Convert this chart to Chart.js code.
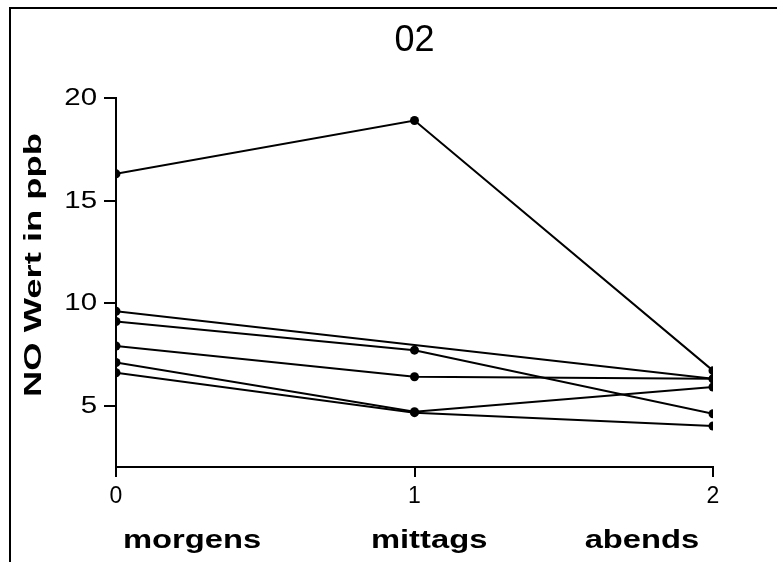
<!DOCTYPE html>
<html>
<head>
<meta charset="utf-8">
<script src="https://cdn.jsdelivr.net/npm/chart.js@4"></script>
<style>
  html, body { margin: 0; padding: 0; background: #fff; }
  #wrap { position: relative; width: 777px; height: 562px; overflow: hidden; }
  #frame { position: absolute; left: 9px; top: 7px; width: 800px; height: 600px;
           border-top: 2px solid #000; border-left: 2px solid #000; pointer-events: none; }
  canvas { position: absolute; left: 0; top: 0; }
</style>
</head>
<body>
<div id="wrap">
  <canvas id="chart" width="777" height="562"></canvas>
  <div id="frame"></div>
</div>
<script>
// Werte (NO in ppb) je Messreihe: morgens, mittags, abends
const xValues = [0, 1, 2];
const categories = ['morgens', 'mittags', 'abends'];
const reihe1 = [16.3, 18.9, 6.7];
const reihe2 = [9.6, null, 6.3];
const reihe3 = [9.1, 7.7, 4.6];
const reihe4 = [7.9, 6.4, 6.3];
const reihe5 = [7.1, 4.7, 5.9];
const reihe6 = [6.6, 4.65, 4.0];
const yTicks = [5, 10, 15, 20];
const xTicks = [0, 1, 2];

const FONT = '"Liberation Sans", Arial, sans-serif';

// breit gezogener Text (Original hat gestreckte Schrift)
function wideText(ctx, text, x, y, sx, rot) {
  ctx.save();
  ctx.translate(x, y);
  if (rot) ctx.rotate(rot);
  ctx.scale(sx, 1);
  ctx.fillText(text, 0, 0);
  ctx.restore();
}

const labelPlugin = {
  id: 'labels',
  afterDraw(chart) {
    const ctx = chart.ctx;
    const x = chart.scales.x;
    const y = chart.scales.y;
    ctx.save();
    ctx.fillStyle = '#000';

    // y-Achse Zahlen
    ctx.font = '23px ' + FONT;
    ctx.textAlign = 'right';
    ctx.textBaseline = 'middle';
    y.ticks.forEach(t => wideText(ctx, String(t.value), 97, y.getPixelForValue(t.value) + 1, 1.28));

    // Tageszeiten unter der x-Achse
    const pos = [0.255, 1.049, 1.762];
    ctx.font = 'bold 25px ' + FONT;
    ctx.textAlign = 'center';
    ctx.textBaseline = 'alphabetic';
    categories.forEach((c, i) => wideText(ctx, c, x.getPixelForValue(pos[i]), 548, 1.31));

    // y-Titel
    ctx.font = 'bold 23px ' + FONT;
    wideText(ctx, 'NO Wert in ppb', 40.5, 265, 1.58, -Math.PI / 2);
    ctx.restore();
  }
};

const reihen = [reihe1, reihe2, reihe3, reihe4, reihe5, reihe6];

new Chart(document.getElementById('chart'), {
  type: 'line',
  data: {
    datasets: reihen.map(r => ({
      data: xValues.map((x, i) => ({ x: x, y: r[i] })),
      borderColor: '#000',
      backgroundColor: '#000',
      borderWidth: 2,
      pointRadius: 4.5,
      pointBorderWidth: 0,
      tension: 0,
      spanGaps: true
    }))
  },
  options: {
    responsive: false,
    animation: false,
    devicePixelRatio: 1,
    layout: { padding: { left: 0, right: 64, top: 0, bottom: 0 } },
    plugins: {
      legend: { display: false },
      tooltip: { enabled: false },
      title: {
        display: true,
        text: '02',
        fullSize: false,
        color: '#000',
        font: { family: FONT, size: 36, weight: 'normal', lineHeight: 1.2 },
        padding: { top: 19, bottom: 35.8 }
      }
    },
    scales: {
      x: {
        type: 'linear',
        min: 0,
        max: 2,
        afterBuildTicks: s => { s.ticks = xTicks.map(v => ({ value: v })); },
        afterFit: s => { s.height = 95; },
        border: { display: true, color: '#000', width: 2 },
        grid: { display: true, drawOnChartArea: false, drawTicks: true, tickLength: 10, color: '#000', lineWidth: 2 },
        ticks: { color: '#000', padding: 6, maxRotation: 0, font: { family: FONT, size: 23 } }
      },
      y: {
        type: 'linear',
        min: 2,
        max: 20,
        afterBuildTicks: s => { s.ticks = yTicks.map(v => ({ value: v })); },
        afterFit: s => { s.width = 116; },
        border: { display: true, color: '#000', width: 2 },
        grid: { display: true, drawOnChartArea: false, drawTicks: true, tickLength: 12, color: '#000', lineWidth: 2 },
        ticks: { display: false }
      }
    }
  },
  plugins: [labelPlugin]
});
</script>
</body>
</html>
